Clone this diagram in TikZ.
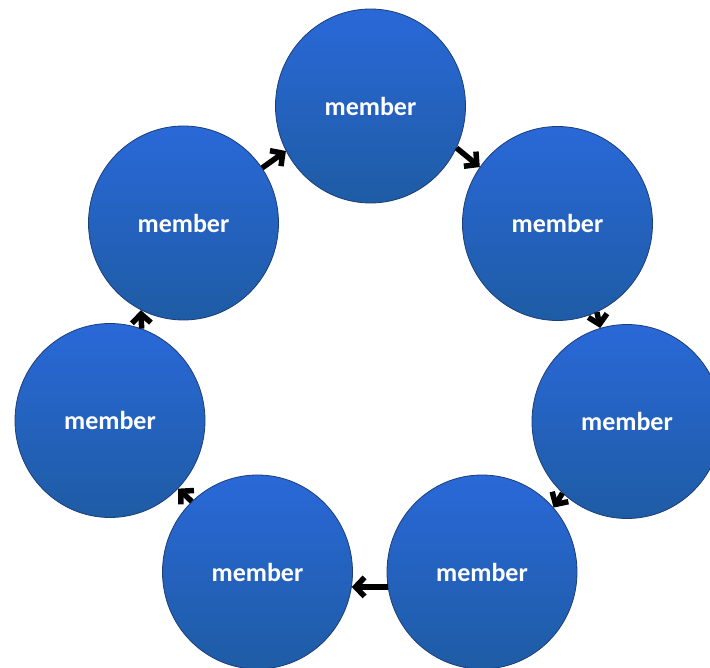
\documentclass[tikz,border=0pt]{standalone}
\usepackage{fontspec}
\setmainfont{Carlito}
\usetikzlibrary{arrows.meta,shapes.geometric}
\definecolor{btop}{RGB}{42,104,216}
\definecolor{bbot}{RGB}{30,92,165}
\definecolor{bedge}{RGB}{28,62,118}
\tikzset{
  member/.style={ellipse, minimum width=190pt, minimum height=194pt, inner sep=0pt,
    top color=btop, bottom color=bbot, draw=bedge, line width=0.8pt,
    text=white, font=\fontsize{26}{26}\selectfont\bfseries},
  link/.style={line width=5.5pt, black,
    -{Straight Barb[length=9pt,width=19pt]}}
}
\begin{document}
\begin{tikzpicture}[x=1pt,y=-1pt]
\useasboundingbox (0,0) rectangle (710,668);
\fill[white] (0,0) rectangle (710,668);
\node[member] (top) at (370.5,106) {member};
\node[member] (ur)  at (557.5,223.5) {member};
\node[member] (rt)  at (627,421.5) {member};
\node[member] (br)  at (482,572) {member};
\node[member] (bl)  at (257.5,572) {member};
\node[member] (lf)  at (110,420.5) {member};
\node[member] (ul)  at (183.5,223) {member};
\draw[link] (ul.35)  -- (top.208);
\draw[link] (top.-26) -- (ur.144);
\draw[link] (ur.-66) -- (rt.106);
\draw[link] (rt.228) -- (br.42);
\draw[link] (br.189) -- (bl.351);
\draw[link] (bl.133) -- (lf.-45);
\draw[link] (lf.71)  -- (ul.244);
\end{tikzpicture}
\end{document}
